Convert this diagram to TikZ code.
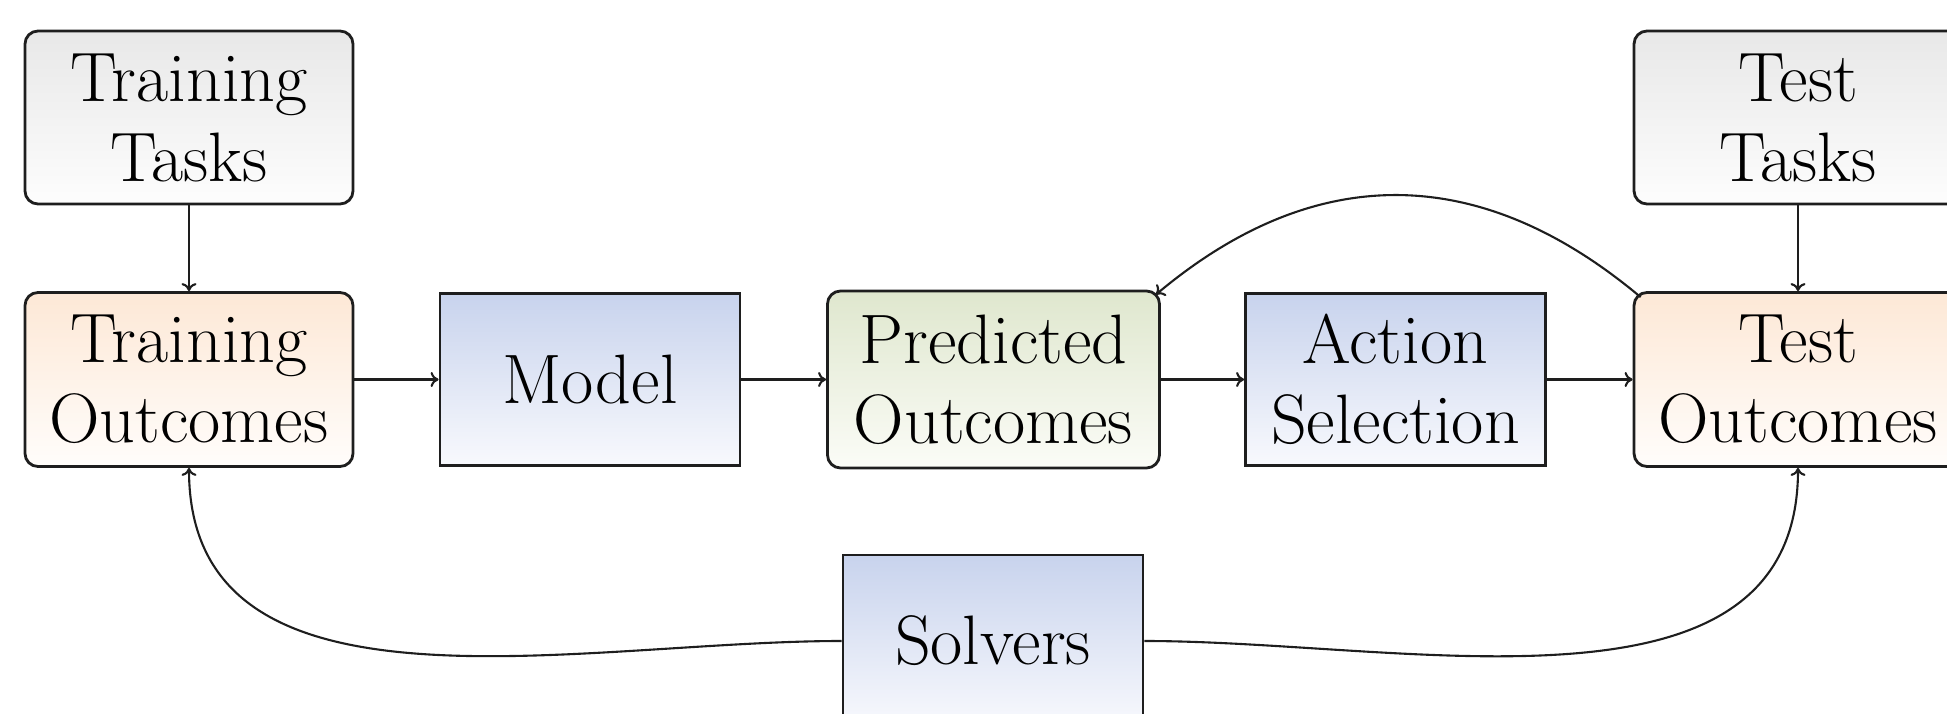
\documentclass[tikz,border=0pt]{standalone}
\usetikzlibrary{arrows.meta}
\definecolor{taskTop}{HTML}{E8E8E8}
\definecolor{taskBot}{HTML}{FDFDFD}
\definecolor{outTop}{HTML}{FDE8D6}
\definecolor{outBot}{HTML}{FFFDFB}
\definecolor{blueTop}{HTML}{C8D3ED}
\definecolor{blueBot}{HTML}{F8F9FD}
\definecolor{greenTop}{HTML}{DFE7CE}
\definecolor{greenBot}{HTML}{FBFCF7}
\definecolor{edge}{HTML}{1E1E1E}
\begin{document}
\begin{tikzpicture}[x=0.5pt,y=0.5pt,
  box/.style={draw=edge, line width=1.4pt, inner sep=0pt, align=center,
    font=\fontsize{35}{40}\selectfont},
  rbox/.style={box, rounded corners=6.5pt},
  taskbox/.style={rbox, top color=taskTop, bottom color=taskBot,
    minimum width=164pt, minimum height=86.5pt},
  outbox/.style={rbox, top color=outTop, bottom color=outBot,
    minimum width=164pt, minimum height=87pt},
  predbox/.style={rbox, top color=greenTop, bottom color=greenBot,
    minimum width=166pt, minimum height=88.5pt},
  procbox/.style={box, top color=blueTop, bottom color=blueBot,
    minimum width=150pt, minimum height=86pt},
  arr/.style={draw=edge, line width=1.05pt, -{To[length=4pt,width=7.5pt]}}]
\useasboundingbox (0,0) rectangle (1947,713);

\node[taskbox] (ttask) at (189,595.5) {Training\\Tasks};
\node[outbox] (tout) at (189,333.5) {Training\\Outcomes};
\node[procbox] (model) at (590,333.5) {Model};
\node[predbox] (pred) at (993.5,333.5) {Predicted\\Outcomes};
\node[procbox] (action) at (1395.5,333.5) {Action\\Selection};
\node[taskbox] (testtask) at (1798,595.5) {Test\\Tasks};
\node[outbox] (testout) at (1798,333.5) {Test\\Outcomes};
\node[procbox] (solvers) at (993,72) {Solvers};

\draw[arr] (ttask.south) -- (tout.north);
\draw[arr] (testtask.south) -- (testout.north);
\draw[arr] (tout.east) -- (model.west);
\draw[arr] (model.east) -- (pred.west);
\draw[arr] (pred.east) -- (action.west);
\draw[arr] (action.east) -- (testout.west);
\draw[arr] ([xshift=4pt,yshift=-3pt]testout.north west)
  to[out=140,in=40,looseness=1.1] ([xshift=-2.5pt,yshift=-2.5pt]pred.north east);
\draw[arr] (solvers.west) to[out=180,in=-90] (tout.south);
\draw[arr] (solvers.east) to[out=0,in=-90] (testout.south);
\end{tikzpicture}
\end{document}
